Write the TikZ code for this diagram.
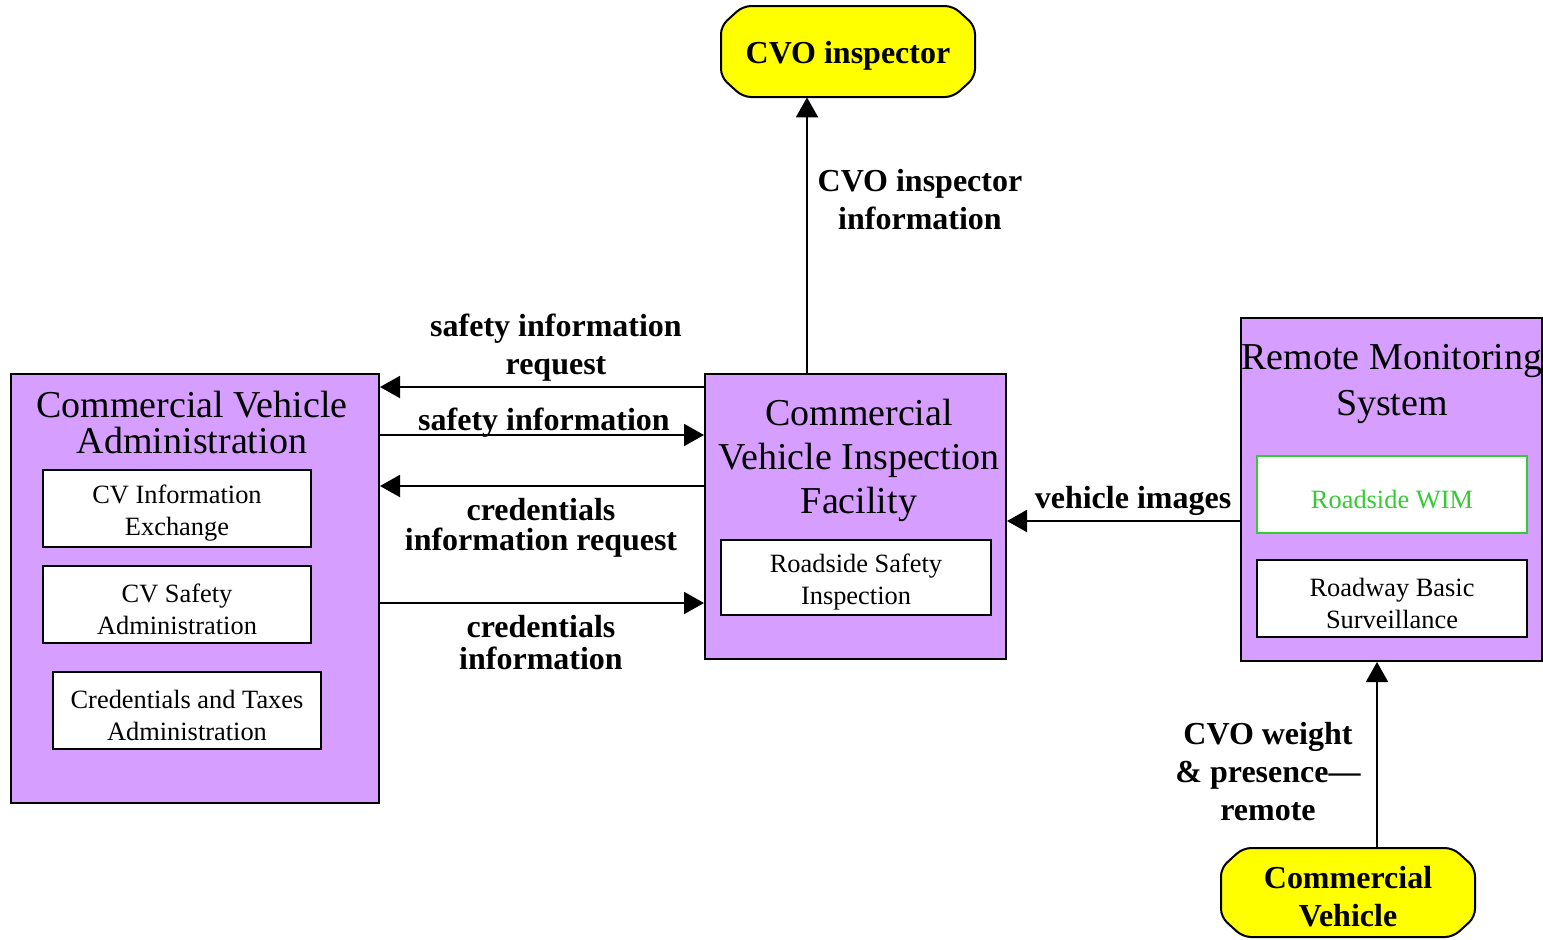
\documentclass[tikz,border=0pt]{standalone}
\usepackage{fontspec}
\setmainfont{Liberation Serif}
\usetikzlibrary{arrows.meta}
\definecolor{sysfill}{RGB}{214,158,255}
\definecolor{wimgreen}{RGB}{51,204,51}
\definecolor{termfill}{RGB}{255,255,0}
\tikzset{
  sysbox/.style={draw, line width=1pt, fill=sysfill, inner sep=0pt},
  subbox/.style={draw, line width=1pt, fill=white, inner sep=0pt,
    minimum width=134pt, minimum height=38.5pt},
  subtext/.style={inner sep=0pt, align=center, yshift=-2.5pt,
    font=\fontsize{13.2pt}{16pt}\selectfont},
  systitle/.style={align=center, inner sep=0pt},
  termshape/.style={draw, line width=1pt, fill=termfill, rounded corners=4pt},
  termtext/.style={inner sep=0pt, minimum width=127pt, minimum height=45.5pt},
  flowlabel/.style={inner sep=0pt, align=center, font=\bfseries\fontsize{16pt}{19pt}\selectfont},
  arr/.style={line width=1pt, -{Triangle[length=10pt,width=11pt]}}
}
\begin{document}
\begin{tikzpicture}[x=0.5pt,y=-0.5pt]
\useasboundingbox (0,0) rectangle (1543,939);
\fill[white] (0,0) rectangle (1543,939);

% Commercial Vehicle Administration
\node[sysbox, minimum width=184pt, minimum height=214.5pt] (cva) at (195,588.5) {};
\node[systitle, font=\fontsize{19pt}{18pt}\selectfont] (cvat) at (192,422) {Commercial Vehicle\\Administration};
\node[subbox] (cvie) at (177,508.5) {};
\node[subtext] (cviet) at (cvie.center) {CV Information\\Exchange};
\node[subbox] (cvsa) at (177,604.5) {};
\node[subtext] (cvsat) at (cvsa.center) {CV Safety\\Administration};
\node[subbox] (cta) at (187,710.5) {};
\node[subtext] (ctat) at (cta.center) {Credentials and Taxes\\Administration};

% Commercial Vehicle Inspection Facility
\node[sysbox, minimum width=150.5pt, minimum height=142.5pt] (cvif) at (855.5,516.5) {};
\node[systitle, font=\fontsize{19pt}{22pt}\selectfont] (cvift) at (859,460) {Commercial\\Vehicle Inspection\\Facility};
\node[subbox, minimum width=135pt, minimum height=37.5pt] (rsi) at (856,577.5) {};
\node[subtext] (rsit) at (rsi.center) {Roadside Safety\\Inspection};

% Remote Monitoring System
\node[sysbox, minimum width=150.5pt, minimum height=171.5pt] (rms) at (1391.5,489.5) {};
\node[systitle, font=\fontsize{19pt}{23pt}\selectfont] (rmst) at (1392,384) {Remote Monitoring\\System};
\node[subbox, draw=wimgreen, minimum width=135pt] (wim) at (1392,494.5) {};
\node[subtext, text=wimgreen] (wimt) at (wim.center) {Roadside WIM};
\node[subbox, minimum width=135pt] (rbs) at (1392,598.5) {};
\node[subtext] (rbst) at (rbs.center) {Roadway Basic\\Surveillance};

% Terminators
\draw[termshape] (743,6) -- (953,6) -- (975,26) -- (975,77) -- (953,97) -- (743,97) -- (721,77) -- (721,26) -- cycle;
\node[termtext] (cvo) at (848,51.5) {};
\node[flowlabel] (cvot) at (848,56) {CVO inspector};
\draw[termshape] (1243,848) -- (1453,848) -- (1475,868) -- (1475,917) -- (1453,937) -- (1243,937) -- (1221,917) -- (1221,868) -- cycle;
\node[termtext] (cv) at (1348,892.5) {};
\node[flowlabel] (cvt) at (1348,897) {Commercial\\Vehicle};

% Flows
\draw[arr] (cvif.west |- 0,387) -- (cva.east |- 0,387);
\draw[arr] (cva.east |- 0,435) -- (cvif.west |- 0,435);
\draw[arr] (cvif.west |- 0,486) -- (cva.east |- 0,486);
\draw[arr] (cva.east |- 0,603) -- (cvif.west |- 0,603);
\draw[arr] (cvif.north -| 807,0) -- (cvo.south -| 807,0);
\draw[arr] (rms.west |- 0,521) -- (cvif.east |- 0,521);
\draw[arr] (cv.north -| 1377,0) -- (rms.south -| 1377,0);

% Flow labels
\node[flowlabel] (l1) at (556,348) {safety information\\request};
\node[flowlabel] (l2) at (544,423) {safety information};
\node[flowlabel, font=\bfseries\fontsize{16pt}{15pt}\selectfont] (l3) at (541,528) {credentials\\information request};
\node[flowlabel, font=\bfseries\fontsize{16pt}{16pt}\selectfont] (l4) at (541,643) {credentials\\information};
\node[flowlabel] (l5) at (920,200) {CVO inspector\\information};
\node[flowlabel] (l6) at (1133,501) {vehicle images};
\node[flowlabel] (l7) at (1268,772) {CVO weight\\\& presence—\\remote};
\end{tikzpicture}
\end{document}
